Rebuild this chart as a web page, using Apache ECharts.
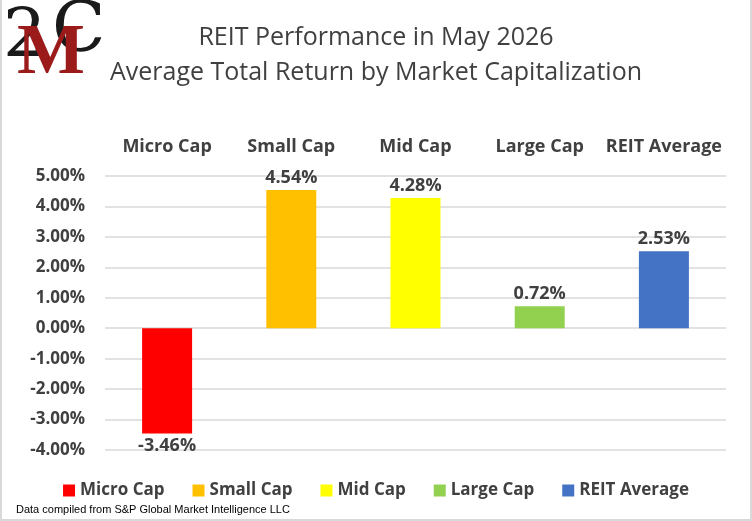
<!DOCTYPE html>
<html>
<head>
<meta charset="utf-8">
<script src="https://cdn.jsdelivr.net/npm/echarts@6/dist/echarts.min.js"></script>
<style>
  html, body { margin: 0; padding: 0; background: #fff; }
  #chart {
    width: 752px;
    height: 521px;
    box-sizing: border-box;
    border-left: 2px solid #d9d9d9;
    border-right: 2px solid #d9d9d9;
    border-bottom: 2px solid #d9d9d9;
  }
</style>
</head>
<body>
<div id="chart"></div>
<script>
  const categories = ["Micro Cap", "Small Cap", "Mid Cap", "Large Cap", "REIT Average"];
  const returns = [-3.46, 4.54, 4.28, 0.72, 2.53];
  const barColors = ["#FF0000", "#FFC000", "#FFFF00", "#92D050", "#4472C4"];
  const yTicks = { min: -4, max: 5, interval: 1 };

  const textColor = "#404040";
  const font = "Open Sans";

  const myChart = echarts.init(document.getElementById("chart"));

  // one series per category so each gets its own legend entry
  const series = categories.map((name, i) => ({
    name: name,
    type: "bar",
    barWidth: 50,
    barGap: "-100%",
    itemStyle: { color: barColors[i] },
    data: categories.map((c, j) => (j === i ? returns[i] : "-")),
    label: {
      show: true,
      position: returns[i] < 0 ? "bottom" : "top",
      distance: 3,
      formatter: (p) => p.value.toFixed(2) + "%",
      color: textColor,
      fontFamily: font,
      fontWeight: "bold",
      fontSize: 18,
    },
  }));

  const option = {
    animation: false,
    title: {
      text: "REIT Performance in May 2026\nAverage Total Return by Market Capitalization",
      left: "center",
      top: 15,
      textStyle: {
        color: textColor,
        fontFamily: font,
        fontWeight: "normal",
        fontSize: 25,
        lineHeight: 35,
      },
    },
    graphic: [
      {
        type: "text", left: 1, top: 4,
        style: { text: "2", font: "68px 'DejaVu Serif'", fill: "#1a1a1a" },
      },
      {
        type: "text", left: 50, top: -2,
        style: { text: "C", font: "70px 'DejaVu Serif'", fill: "#1a1a1a" },
      },
      {
        type: "text", left: 15, top: 18,
        style: { text: "M", font: "bold 72px 'Liberation Serif'", fill: "#9b1b1b" },
      },
      {
        type: "text", left: 14, top: 504,
        style: {
          text: "Data compiled from S&P Global Market Intelligence LLC",
          font: "11px 'Liberation Sans Narrow', 'Liberation Sans'",
          fill: "#000",
        },
      },
    ],
    legend: {
      bottom: 15,
      left: "center",
      itemWidth: 12,
      itemHeight: 12,
      itemGap: 28,
      icon: "rect",
      textStyle: {
        color: textColor,
        fontFamily: font,
        fontWeight: "bold",
        fontSize: 17,
      },
      data: categories,
    },
    grid: {
      top: 176,
      bottom: 69,
      left: 103,
      right: 24,
    },
    xAxis: {
      type: "category",
      position: "top",
      data: categories,
      axisLine: { show: false },
      axisTick: { show: false },
      axisLabel: {
        interval: 0,
        margin: 20,
        color: textColor,
        fontFamily: font,
        fontWeight: "bold",
        fontSize: 18,
      },
    },
    yAxis: {
      type: "value",
      min: yTicks.min,
      max: yTicks.max,
      interval: yTicks.interval,
      axisLine: { show: false },
      axisTick: { show: false },
      axisLabel: {
        margin: 20,
        formatter: (v) => v.toFixed(2) + "%",
        color: textColor,
        fontFamily: font,
        fontWeight: "bold",
        fontSize: 17,
      },
      splitLine: {
        lineStyle: { color: "#d9d9d9", width: 1.5 },
      },
    },
    series: series,
  };

  myChart.setOption(option);
</script>
</body>
</html>
